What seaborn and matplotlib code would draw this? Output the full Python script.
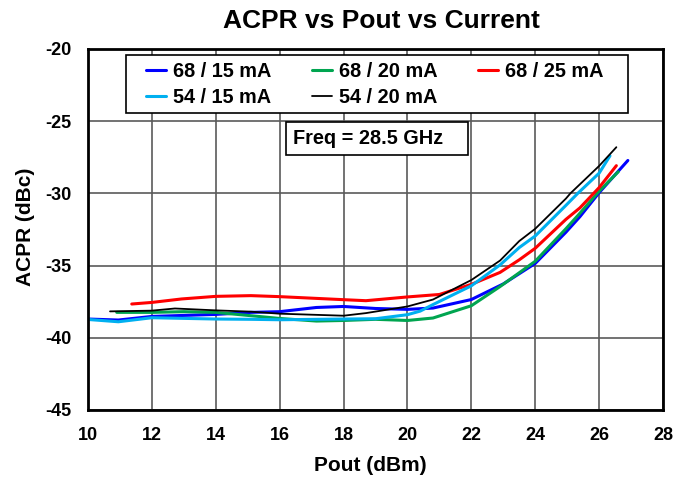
import matplotlib
matplotlib.use("Agg")
import matplotlib.pyplot as plt
from matplotlib.patches import Rectangle
import seaborn as sns
import pandas as pd

# Pout (dBm) / ACPR (dBc) for each bias condition
pout_68_15 = [10.0, 10.95, 12.0, 14.0, 15.1, 16.0, 17.15, 18.0, 19.0, 20.0, 20.8, 22.0, 23.0, 24.0, 24.96, 25.4, 26.0, 26.9]
acpr_68_15 = [-38.70, -38.77, -38.52, -38.38, -38.24, -38.19, -37.90, -37.83, -37.97, -38.03, -37.94, -37.35, -36.27, -34.85, -32.69, -31.61, -29.95, -27.72]

pout_68_20 = [10.9, 12.0, 13.0, 14.0, 15.1, 16.0, 17.15, 18.0, 19.0, 20.0, 20.8, 22.0, 22.9, 24.0, 24.96, 25.4, 26.0, 26.6]
acpr_68_20 = [-38.24, -38.24, -38.19, -38.24, -38.47, -38.66, -38.84, -38.80, -38.72, -38.80, -38.63, -37.78, -36.45, -34.70, -32.45, -31.37, -29.85, -28.50]

pout_68_25 = [11.37, 12.0, 12.93, 14.0, 15.1, 16.0, 18.0, 18.7, 20.0, 21.0, 22.0, 22.9, 23.5, 24.0, 24.96, 25.4, 26.0, 26.54]
acpr_68_25 = [-37.66, -37.55, -37.31, -37.13, -37.08, -37.15, -37.36, -37.43, -37.17, -37.00, -36.30, -35.47, -34.60, -33.80, -31.80, -31.00, -29.60, -28.08]

pout_54_15 = [10.0, 10.95, 12.0, 14.0, 15.1, 16.0, 18.0, 19.0, 20.0, 20.4, 20.8, 22.0, 22.9, 23.5, 24.0, 24.96, 25.33, 26.0, 26.34]
acpr_54_15 = [-38.73, -38.89, -38.61, -38.70, -38.72, -38.75, -38.70, -38.68, -38.40, -38.15, -37.70, -36.40, -34.95, -33.75, -32.95, -30.83, -30.00, -28.60, -27.40]

pout_54_20 = [10.69, 12.0, 12.72, 14.0, 15.1, 16.0, 18.0, 18.7, 20.0, 20.4, 20.8, 22.0, 22.9, 23.5, 24.0, 24.96, 25.1, 26.0, 26.54]
acpr_54_20 = [-38.17, -38.12, -37.97, -38.10, -38.19, -38.33, -38.47, -38.29, -37.83, -37.59, -37.35, -36.00, -34.65, -33.30, -32.45, -30.36, -30.00, -28.10, -26.80]

series_names = ["68 / 15 mA", "68 / 20 mA", "68 / 25 mA", "54 / 15 mA", "54 / 20 mA"]
series_colors = ["#0000FF", "#00A550", "#FF0000", "#00B0F0", "#000000"]
series_widths = [2.2, 2.2, 2.2, 2.2, 1.3]

x_ticks = [10, 12, 14, 16, 18, 20, 22, 24, 26, 28]
y_ticks = [-45, -40, -35, -30, -25, -20]

frames = []
for name, xs, ys in zip(series_names,
                        [pout_68_15, pout_68_20, pout_68_25, pout_54_15, pout_54_20],
                        [acpr_68_15, acpr_68_20, acpr_68_25, acpr_54_15, acpr_54_20]):
    frames.append(pd.DataFrame({"Pout": xs, "ACPR": ys, "Bias": name}))
df = pd.concat(frames, ignore_index=True)

sns.set_theme(style="white")
plt.rcParams["font.family"] = ["Liberation Sans", "DejaVu Sans"]
plt.rcParams["font.weight"] = "bold"
plt.rcParams["text.color"] = "black"
plt.rcParams["axes.labelcolor"] = "black"

W, H = 692.0, 482.0
fig = plt.figure(figsize=(W / 100, H / 100), dpi=100)
left, right, top, bottom = 88.0, 663.0, 49.0, 410.0
ax = fig.add_axes([left / W, 1 - bottom / H, (right - left) / W, (bottom - top) / H])
ax_w, ax_h = right - left, bottom - top


def ax_xy(px, py):
    """Pixel position on the figure -> axes fraction."""
    return (px - left) / ax_w, (bottom - py) / ax_h


sns.lineplot(data=df, x="Pout", y="ACPR", hue="Bias", hue_order=series_names,
             palette=dict(zip(series_names, series_colors)), sort=False,
             estimator=None, ax=ax, legend=False)
for line, lw in zip(ax.get_lines(), series_widths):
    line.set_linewidth(lw)
    line.set_solid_joinstyle("round")

ax.set_xlim(10, 28)
ax.set_ylim(-45, -20)
ax.set_xticks(x_ticks)
ax.set_yticks(y_ticks)
ax.set_xticklabels([str(t) for t in x_ticks], fontsize=13, fontweight="bold")
ax.set_yticklabels([str(t) for t in y_ticks], fontsize=13, fontweight="bold")
ax.tick_params(axis="x", length=0, pad=12, colors="black")
ax.tick_params(axis="y", length=0, pad=12, colors="black")
ax.grid(True, color="#5a5a5a", linewidth=1.2)
ax.set_axisbelow(True)
for side in ["top", "right", "bottom", "left"]:
    ax.spines[side].set_visible(True)
    ax.spines[side].set_color("black")
    ax.spines[side].set_linewidth(2.0)

ax.set_xlabel("Pout (dBm)", fontsize=15, fontweight="bold")
ax.set_ylabel("ACPR (dBc)", fontsize=15, fontweight="bold")
ax.xaxis.set_label_coords(*ax_xy(370, 456))
ax.yaxis.set_label_coords(*ax_xy(35, 227))
fig.text(381 / W, 1 - 21 / H, "ACPR vs Pout vs Current", ha="center", va="center",
         fontsize=19, fontweight="bold")

# legend box, filled row by row: three entries on top, two below
lx0, ly0 = ax_xy(126, 113)
lx1, ly1 = ax_xy(628, 55)
ax.add_patch(Rectangle((lx0, ly0), lx1 - lx0, ly1 - ly0, transform=ax.transAxes,
                       facecolor="white", edgecolor="black", linewidth=1.2, zorder=4))
legend_order = [0, 3, 1, 4, 2]
handles = [plt.Line2D([], [], color=series_colors[i], linewidth=series_widths[i]) for i in legend_order]
labels = [series_names[i] for i in legend_order]
leg = ax.legend(handles, labels, ncol=3, loc="center left",
                bbox_to_anchor=ax_xy(146, 84.3), frameon=False,
                prop={"size": 14.3, "weight": "bold"}, handlelength=1.0, handletextpad=0.35,
                borderaxespad=0, borderpad=0, labelspacing=0.35, columnspacing=2.05)
leg.set_zorder(5)

# frequency note
fx0, fy0 = ax_xy(285.7, 155)
fx1, fy1 = ax_xy(468, 121.7)
ax.add_patch(Rectangle((fx0, fy0), fx1 - fx0, fy1 - fy0, transform=ax.transAxes,
                       facecolor="white", edgecolor="black", linewidth=1.2, zorder=4))
ax.text(*ax_xy(368, 138.5), "Freq = 28.5 GHz", transform=ax.transAxes,
        ha="center", va="center", fontsize=14.3, fontweight="bold", zorder=5)

fig.savefig("out.png", dpi=100)
